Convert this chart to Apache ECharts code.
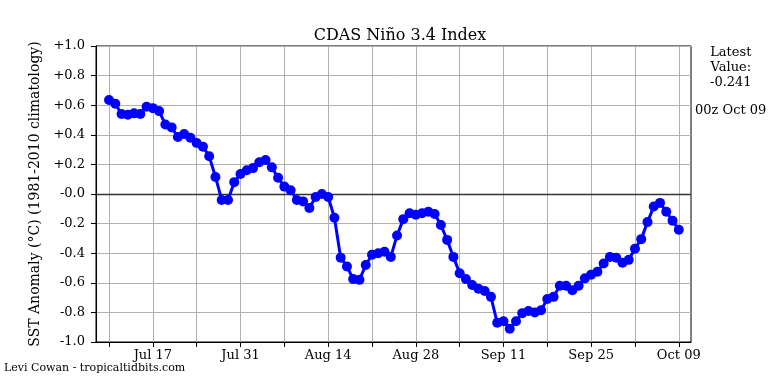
<!DOCTYPE html>
<html><head><meta charset="utf-8">
<script src="https://cdn.jsdelivr.net/npm/echarts@6/dist/echarts.min.js"></script>
<style>html,body{margin:0;padding:0;background:#fff}#c{width:768px;height:384px}</style>
</head><body><div id="c"></div>
<script>
// Day index 0 = Jul 10, one point per day through Oct 09 (index 91)
const dayIndex = Array.from({length: 92}, (_, i) => i);
const sstAnomaly = [
  0.635, 0.61, 0.54, 0.535, 0.545, 0.54, 0.59, 0.58, 0.56, 0.47,
  0.45, 0.385, 0.405, 0.38, 0.345, 0.32, 0.255, 0.115, -0.04, -0.04,
  0.08, 0.135, 0.16, 0.175, 0.215, 0.23, 0.18, 0.11, 0.05, 0.025,
  -0.04, -0.05, -0.095, -0.02, 0.0, -0.02, -0.16, -0.43, -0.49, -0.575,
  -0.58, -0.48, -0.41, -0.40, -0.39, -0.425, -0.28, -0.17, -0.13, -0.14,
  -0.13, -0.12, -0.135, -0.21, -0.31, -0.425, -0.535, -0.575, -0.615, -0.64,
  -0.655, -0.695, -0.87, -0.86, -0.91, -0.86, -0.805, -0.79, -0.80, -0.785,
  -0.71, -0.695, -0.62, -0.62, -0.65, -0.62, -0.57, -0.545, -0.525, -0.47,
  -0.425, -0.43, -0.465, -0.445, -0.37, -0.305, -0.19, -0.085, -0.06, -0.12,
  -0.18, -0.241
];
const tickDays = [0, 7, 14, 21, 28, 35, 42, 49, 56, 63, 70, 77, 84, 91];
const labelDays = [7, 21, 35, 49, 63, 77, 91];
const tickLabels = ['Jul 17', 'Jul 31', 'Aug 14', 'Aug 28', 'Sep 11', 'Sep 25', 'Oct 09'];
const latestDate = '00z Oct 09';

const FONT = '"DejaVu Serif", serif';
const chart = echarts.init(document.getElementById('c'));
const latest = sstAnomaly[sstAnomaly.length - 1];
chart.setOption({
  animation: false,
  backgroundColor: '#fff',
  title: {
    text: 'CDAS Niño 3.4 Index', left: 395, top: 23, textAlign: 'center',
    textStyle: {fontFamily: FONT, fontWeight: 'normal', fontSize: 16, color: '#000'}
  },
  grid: {left: 96, right: 77, top: 46, bottom: 42, show: true, borderColor: '#000', borderWidth: 1, backgroundColor: 'transparent'},
  xAxis: {
    type: 'value', min: -2.08, max: 92.95,
    axisLine: {show: true, onZero: false, lineStyle: {color: '#000', width: 1}},
    axisTick: {show: true, length: 5, lineStyle: {color: '#000'}, customValues: tickDays},
    axisLabel: {
      customValues: labelDays, margin: 7,
      formatter: v => tickLabels[labelDays.indexOf(Math.round(v))] || '',
      fontFamily: FONT, fontSize: 13, color: '#000'
    },
    splitLine: {show: true, lineStyle: {color: '#b0b0b0', width: 1}}
  },
  yAxis: {
    type: 'value', min: -1, max: 1, interval: 0.2,
    name: 'SST Anomaly (°C) (1981-2010 climatology)', nameLocation: 'middle', nameGap: 52,
    nameTextStyle: {fontFamily: FONT, fontSize: 14, color: '#000'},
    axisLine: {show: true, onZero: false, lineStyle: {color: '#000', width: 1}},
    axisTick: {show: true, length: 5, lineStyle: {color: '#000'}},
    axisLabel: {
      formatter: v => (v > 0.0001 ? '+' : '-') + Math.abs(v).toFixed(1),
      fontFamily: FONT, fontSize: 13, color: '#000', margin: 11
    },
    splitLine: {show: true, lineStyle: {color: '#b0b0b0', width: 1}}
  },
  series: [{
    type: 'line',
    data: dayIndex.map((d, i) => [d, sstAnomaly[i]]),
    symbol: 'circle', symbolSize: 10,
    lineStyle: {color: '#0000ff', width: 3},
    itemStyle: {color: '#0000ff'},
    z: 5,
    markLine: {
      silent: true, symbol: 'none', label: {show: false},
      lineStyle: {color: '#333', width: 1.3, type: 'solid'},
      data: [{yAxis: 0}]
    }
  }],
  graphic: [
    {type: 'text', left: 710, top: 45, style: {text: 'Latest\nValue:\n' + latest.toFixed(3), fontFamily: FONT, fontSize: 13, lineHeight: 15, fill: '#000', align: 'center', textAlign: 'center'}},
    {type: 'text', left: 695, top: 104, style: {text: latestDate, fontFamily: FONT, fontSize: 13, fill: '#000'}},
    {type: 'text', left: 4, top: 363, style: {text: 'Levi Cowan - tropicaltidbits.com', fontFamily: FONT, fontSize: 11, fill: '#000'}}
  ]
});
</script></body></html>
